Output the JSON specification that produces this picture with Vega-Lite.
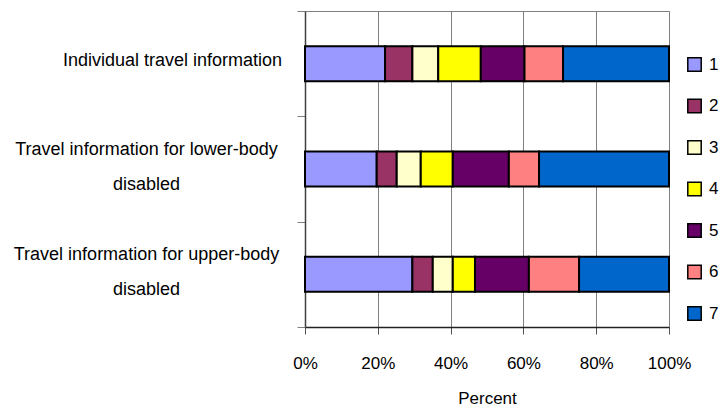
{
  "$schema": "https://vega.github.io/schema/vega-lite/v6.json",
  "width": 364,
  "height": 316,
  "autosize": {"type": "none"},
  "padding": {"left": 305, "top": 11, "right": 54, "bottom": 90},
  "config": {
    "view": {"stroke": "#808080", "strokeWidth": 1},
    "font": "Liberation Sans"
  },
  "data": {
    "values": [
      {"item": "Individual travel information", "rating": "1", "pct": 22.0},
      {"item": "Individual travel information", "rating": "2", "pct": 7.5},
      {"item": "Individual travel information", "rating": "3", "pct": 7.1},
      {"item": "Individual travel information", "rating": "4", "pct": 11.7},
      {"item": "Individual travel information", "rating": "5", "pct": 12.0},
      {"item": "Individual travel information", "rating": "6", "pct": 10.6},
      {"item": "Individual travel information", "rating": "7", "pct": 29.1},
      {"item": "Travel information for lower-body disabled", "rating": "1", "pct": 19.7},
      {"item": "Travel information for lower-body disabled", "rating": "2", "pct": 5.5},
      {"item": "Travel information for lower-body disabled", "rating": "3", "pct": 6.6},
      {"item": "Travel information for lower-body disabled", "rating": "4", "pct": 8.8},
      {"item": "Travel information for lower-body disabled", "rating": "5", "pct": 15.4},
      {"item": "Travel information for lower-body disabled", "rating": "6", "pct": 8.3},
      {"item": "Travel information for lower-body disabled", "rating": "7", "pct": 35.7},
      {"item": "Travel information for upper-body disabled", "rating": "1", "pct": 29.5},
      {"item": "Travel information for upper-body disabled", "rating": "2", "pct": 5.6},
      {"item": "Travel information for upper-body disabled", "rating": "3", "pct": 5.5},
      {"item": "Travel information for upper-body disabled", "rating": "4", "pct": 6.1},
      {"item": "Travel information for upper-body disabled", "rating": "5", "pct": 14.8},
      {"item": "Travel information for upper-body disabled", "rating": "6", "pct": 13.8},
      {"item": "Travel information for upper-body disabled", "rating": "7", "pct": 24.7}
    ]
  },
  "mark": {"type": "bar", "stroke": "black", "strokeWidth": 2, "height": {"band": 0.333}},
  "encoding": {
    "y": {
      "field": "item",
      "type": "nominal",
      "sort": ["Individual travel information", "Travel information for lower-body disabled", "Travel information for upper-body disabled"],
      "scale": {"paddingInner": 0, "paddingOuter": 0},
      "axis": {
        "title": null,
        "tickBand": "extent",
        "tickSize": 8,
        "tickColor": "#808080",
        "domainColor": "#404040",
        "domainWidth": 1.5,
        "grid": false,
        "labelAlign": "center",
        "labelBaseline": "middle",
        "labelPadding": {"condition": {"test": "datum.value == 'Individual travel information'", "value": 125}, "value": 151},
        "labelOffset": {"condition": {"test": "datum.value == 'Individual travel information'", "value": -3}, "value": -20},
        "labelFontSize": 18,
        "labelColor": "#000000",
        "labelLineHeight": 35,
        "labelLimit": 400,
        "labelExpr": "!datum.value ? '' : (datum.value == 'Individual travel information' ? datum.value : [replace(datum.value, ' disabled', ''), 'disabled'])"
      }
    },
    "x": {
      "field": "pct",
      "type": "quantitative",
      "stack": "normalize",
      "scale": {"domain": [0, 1]},
      "axis": {
        "values": [0, 0.2, 0.4, 0.6, 0.8, 1],
        "format": "%",
        "grid": true,
        "gridColor": "#808080",
        "gridWidth": 1,
        "tickColor": "#555555",
        "tickSize": 7,
        "domainColor": "#222222",
        "domainWidth": 1.5,
        "labelFlush": false,
        "labelFontSize": 17,
        "labelColor": "#000000",
        "labelPadding": 21,
        "title": "Percent",
        "titleFontSize": 17,
        "titleFontWeight": "normal",
        "titleColor": "#000000",
        "titlePadding": 19
      }
    },
    "color": {
      "field": "rating",
      "type": "nominal",
      "scale": {
        "domain": ["1", "2", "3", "4", "5", "6", "7"],
        "range": ["#9999FF", "#993366", "#FFFFCC", "#FFFF00", "#660066", "#FF8080", "#0066CC"]
      },
      "legend": {
        "title": null,
        "orient": "none",
        "legendX": 381,
        "legendY": 45,
        "symbolType": "square",
        "symbolSize": 180,
        "symbolStrokeColor": "black",
        "symbolStrokeWidth": 1.5,
        "symbolOpacity": 1,
        "labelFontSize": 17,
        "labelColor": "#000000",
        "labelOffset": 6,
        "rowPadding": 20.5
      }
    },
    "order": {"field": "rating", "type": "ordinal"}
  }
}
